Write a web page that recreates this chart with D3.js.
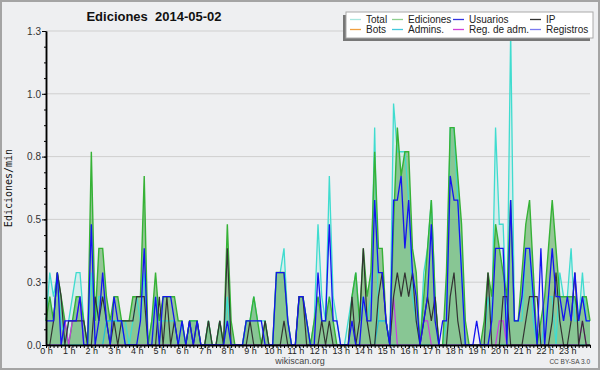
<html>
<head>
    <title>Ediciones 2014-05-02</title>
    <meta charset="utf-8">
    <style type="text/css">
        body { margin: 0; background: #ffffff; }
        svg { display: block; font-family: "Liberation Sans", Arial, sans-serif; }
    </style>
</head>
<body>
<script src="https://d3js.org/d3.v7.min.js"></script>
<script>

    // tick labels
    var hourLabels = ["0 h","1 h","2 h","3 h","4 h","5 h","6 h","7 h","8 h","9 h","10 h","11 h",
        "12 h","13 h","14 h","15 h","16 h","17 h","18 h","19 h","20 h","21 h","22 h","23 h"];
    var yTickValues = [0, 0.26, 0.52, 0.78, 1.04, 1.3];
    var yTickLabels = ["0.0", "0.3", "0.5", "0.8", "1.0", "1.3"];

    // edits per 10 minute slot, one row per hour (plotted as edits/min)
    var total = [
        1,3,2,3,1,0, 1,2,3,3,1,0, 3,1,2,2,1,1, 1,1,1,1,0,1, 2,1,3,0,1,2, 1,1,1,1,1,0,
        1,0,1,1,1,0, 0,1,0,0,1,0, 2,0,0,0,0,1, 1,2,1,1,1,0, 0,3,3,4,1,0, 0,2,2,1,0,1,
        5,2,1,7,2,1, 0,0,1,2,3,1, 2,1,2,9,1,1, 1,0,10,8,8,8, 6,2,1,0,3,4, 6,2,0,0,1,9,
        9,6,3,0,0,0, 0,0,0,2,1,9, 5,5,1,13,1,1, 1,4,4,1,0,0, 1,2,2,0,3,2, 2,4,1,1,3,1,
        1];
    var edits = [
        1,2,1,3,2,1, 0,1,2,2,1,0, 8,1,4,4,2,1, 2,2,1,1,1,2, 2,2,7,0,1,3, 1,2,2,2,2,1,
        1,0,1,1,1,0, 0,1,0,0,1,0, 5,1,0,0,0,1, 1,2,1,0,1,0, 0,3,3,3,1,0, 0,2,2,1,0,1,
        2,1,1,2,1,0, 0,0,0,2,3,1, 4,2,3,8,4,4, 1,0,5,9,7,8, 8,4,3,0,2,4, 6,2,0,0,3,9,
        9,7,5,1,0,0, 0,0,1,3,2,5, 4,3,2,6,1,1, 3,5,6,3,0,1, 2,4,6,4,2,2, 2,2,2,1,2,2,
        1];
    var users = [
        1,1,1,3,0,1, 1,1,1,2,0,0, 5,0,1,3,1,0, 2,1,1,0,0,0, 0,1,4,0,0,2, 0,2,2,2,1,0,
        1,0,1,0,1,0, 0,0,0,0,0,0, 1,0,0,0,0,1, 1,1,1,1,0,0, 0,3,3,3,1,0, 0,2,2,1,0,0,
        3,1,1,5,1,1, 0,0,0,1,0,0, 2,1,1,6,3,3, 1,0,6,6,7,4, 6,3,2,0,1,2, 5,1,0,1,1,7,
        6,6,3,0,0,0, 1,0,0,0,1,4, 4,4,0,6,1,1, 2,4,4,2,0,4, 0,2,4,2,2,1, 2,1,3,1,2,1,
        1];
    var ip = [
        0,0,1,3,2,0, 1,1,1,1,1,0, 0,2,1,2,1,0, 1,0,1,1,1,1, 2,2,2,0,0,0, 2,0,2,0,1,0,
        0,0,1,0,1,0, 0,1,0,0,1,0, 4,0,0,0,0,0, 1,0,0,0,1,0, 0,0,0,1,0,0, 0,2,2,0,0,0,
        0,1,0,1,0,0, 0,0,0,2,0,1, 4,1,0,0,2,3, 1,0,2,3,2,3, 2,3,1,0,1,2, 1,2,0,0,0,2,
        3,1,0,0,0,0, 0,0,0,3,0,0, 0,2,2,0,0,0, 0,1,2,2,2,0, 0,0,1,3,1,0, 0,1,3,0,1,0,
        0];
    var admins = [
        0,0,0,0,0,0, 0,0,0,0,0,0, 0,0,0,0,1,1, 1,1,1,0,0,0, 0,0,0,0,0,0, 0,0,0,0,0,0,
        0,0,0,0,0,0, 0,0,0,0,0,0, 0,0,0,0,0,0, 0,0,0,0,0,0, 0,0,0,0,0,0, 0,0,0,0,0,0,
        0,0,0,0,0,0, 0,0,0,0,0,0, 0,0,0,0,1,1, 1,0,0,0,0,0, 0,0,0,0,0,0, 0,0,0,0,0,0,
        0,0,0,0,0,0, 0,0,0,0,0,0, 0,0,0,0,0,0, 0,0,0,0,0,0, 0,0,0,0,0,0, 0,0,0,0,0,0,
        0];
    var regAdm = [
        0,0,0,0,0,1, 0,1,1,2,0,0, 0,0,0,0,0,0, 0,0,0,0,0,0, 0,0,0,0,0,0, 0,0,0,0,0,0,
        0,0,0,0,0,0, 0,0,0,0,0,0, 0,0,0,0,0,0, 0,0,0,0,0,0, 0,0,0,0,0,0, 0,0,0,0,0,0,
        0,0,0,0,0,0, 0,0,0,0,0,0, 0,0,0,0,0,0, 0,0,2,0,0,0, 0,0,0,0,1,1, 0,0,0,0,0,0,
        0,0,0,0,0,0, 0,0,0,0,0,0, 1,1,0,0,0,0, 0,0,0,0,0,0, 0,0,0,0,0,0, 0,0,0,0,1,0,
        0];

    var legendNames = ["Total", "Ediciones", "Usuarios", "IP", "Bots", "Admins.", "Reg. de adm.", "Registros"];
    var legendColors = ["#a8e6df", "#8fd08f", "#3434e0", "#333333", "#f0a040", "#44c8dc", "#d040d8", "#7a7af0"];

    var W = 600, H = 370;
    var svg = d3.select("body").append("svg")
        .attr("width", W)
        .attr("height", H);

    svg.append("rect")
        .attr("x", 1).attr("y", 1)
        .attr("width", W - 2).attr("height", H - 2)
        .attr("fill", "#eeeff1")
        .attr("stroke", "#a4a4a4")
        .attr("stroke-width", 2);

    var x = d3.scaleLinear().domain([0, 24]).range([46, 590]);
    var y = d3.scaleLinear().domain([0, 1.3]).range([345, 31]);

    // grid lines
    svg.append("g").selectAll("line")
        .data(yTickValues.slice(1))
        .enter().append("line")
        .attr("x1", x(0)).attr("x2", x(24))
        .attr("y1", function(d) { return y(d); })
        .attr("y2", function(d) { return y(d); })
        .attr("stroke", "#cfcfcf")
        .attr("stroke-width", 1);

    var px = function(d, i) { return x(i / 6); };
    var py = function(d) { return y(d / 10); };

    var area = d3.area().x(px).y0(y(0)).y1(py);
    var line = d3.line().x(px).y(py);

    svg.append("path").datum(total)
        .attr("d", area).attr("fill", "#40e0d0").attr("fill-opacity", 0.14);
    svg.append("path").datum(edits)
        .attr("d", area).attr("fill", "#3ca03c").attr("fill-opacity", 0.5);

    var series = [
        {v: total, c: "#3fdccf", w: 1.3},
        {v: edits, c: "#36b236", w: 1.4},
        {v: admins, c: "#22bcd8", w: 1.2},
        {v: regAdm, c: "#c83ce0", w: 1.2},
        {v: ip, c: "#333333", w: 1.2},
        {v: users, c: "#1414f0", w: 1.3}
    ];
    series.forEach(function(s) {
        svg.append("path").datum(s.v)
            .attr("d", line)
            .attr("fill", "none")
            .attr("stroke", s.c)
            .attr("stroke-width", s.w)
            .attr("stroke-linejoin", "miter");
    });

    // y axis
    svg.append("g")
        .attr("transform", "translate(" + x(0) + ",0)")
        .call(d3.axisLeft(y).tickValues(d3.range(0, 21).map(function(k) { return k * 0.065; }))
            .tickSize(2).tickSizeOuter(0).tickFormat(""));
    var yAxis = svg.append("g")
        .attr("transform", "translate(" + x(0) + ",0)")
        .call(d3.axisLeft(y).tickValues(yTickValues).tickSize(4).tickSizeOuter(0).tickPadding(1)
            .tickFormat(function(d, i) { return yTickLabels[i]; }));
    yAxis.selectAll("text").attr("font-size", 10).attr("fill", "#333")
        .attr("font-family", "Liberation Sans, Arial, sans-serif");

    // x axis
    svg.append("g")
        .attr("transform", "translate(0," + y(0) + ")")
        .call(d3.axisBottom(x).tickValues(d3.range(0, 145).map(function(k) { return k / 6; }))
            .tickSize(3).tickSizeOuter(0).tickFormat(""));
    var xAxis = svg.append("g")
        .attr("transform", "translate(0," + y(0) + ")")
        .call(d3.axisBottom(x).tickValues(d3.range(0, 24)).tickSize(3).tickSizeOuter(0).tickPadding(0)
            .tickFormat(function(d, i) { return hourLabels[i]; }));
    xAxis.selectAll("text").attr("font-size", 9).attr("fill", "#222")
        .attr("font-family", "Liberation Sans, Arial, sans-serif");

    svg.selectAll(".domain").attr("stroke", "#000").attr("stroke-width", 1.5);
    svg.selectAll(".tick line").attr("stroke", "#000");

    // title
    svg.append("text")
        .attr("x", 154).attr("y", 21)
        .attr("text-anchor", "middle")
        .attr("font-size", 13).attr("font-weight", "bold")
        .attr("fill", "#111")
        .style("white-space", "pre")
        .text("Ediciones  2014-05-02");

    svg.append("text")
        .attr("transform", "translate(12,188) rotate(-90)")
        .attr("text-anchor", "middle")
        .attr("font-family", "DejaVu Sans Mono, monospace")
        .attr("font-size", 10)
        .attr("fill", "#111")
        .text("Ediciones/min");

    svg.append("text")
        .attr("x", 300).attr("y", 364)
        .attr("text-anchor", "middle")
        .attr("font-size", 9).attr("fill", "#444")
        .text("wikiscan.org");

    svg.append("text")
        .attr("x", 590).attr("y", 364)
        .attr("text-anchor", "end")
        .attr("font-size", 6.5).attr("fill", "#444")
        .text("CC BY-SA 3.0");

    // legend
    var lg = svg.append("g");
    lg.append("rect").attr("x", 343).attr("y", 15).attr("width", 247).attr("height", 26).attr("fill", "#777");
    lg.append("rect").attr("x", 346).attr("y", 12).attr("width", 247).attr("height", 26)
        .attr("fill", "#ffffff").attr("stroke", "#aaaaaa").attr("stroke-width", 1);
    var colX = [366, 408, 469, 546];
    legendNames.forEach(function(name, i) {
        var cx = colX[i % 4], row = Math.floor(i / 4);
        var ly = 19.5 + row * 10;
        lg.append("line")
            .attr("x1", cx - 16).attr("x2", cx - 5)
            .attr("y1", ly).attr("y2", ly)
            .attr("stroke", legendColors[i]).attr("stroke-width", 1.3);
        lg.append("text")
            .attr("x", cx).attr("y", ly + 3.5)
            .attr("font-size", 10).attr("fill", "#222")
            .text(name);
    });

</script>
</body>
</html>
